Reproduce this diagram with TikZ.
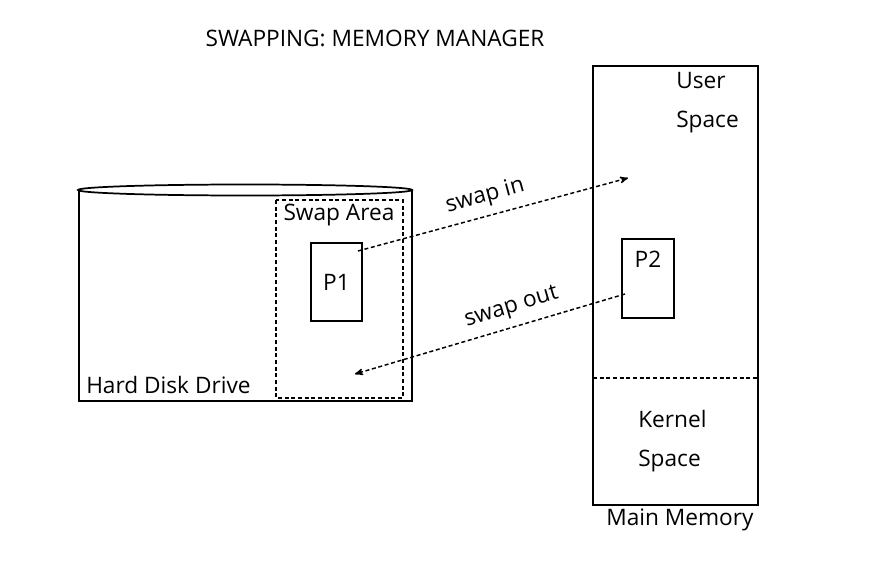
\documentclass[tikz,border=0pt]{standalone}
\usepackage{fontspec}
\setmainfont{Open Sans}
\usepackage{tikz}
\usetikzlibrary{positioning}
\usetikzlibrary{calc}
\usetikzlibrary{arrows,shapes}

\tikzset{
  boxline/.style={draw=black, line width=1.3pt},
  swapline/.style={draw=black, dashed, line width=1.1pt, dash pattern=on 3pt off 2pt},
  swaparrow/.style={swapline, ->, >=stealth'},
  lbl/.style={font=\fontsize{17}{29}\selectfont, inner sep=0pt}
}

\begin{document}
\begin{tikzpicture}[x=0.75pt, y=-0.75pt]

\useasboundingbox (0, 0) rectangle (881, 588);

% title
\node[lbl] (title) at (375, 38) {SWAPPING: MEMORY MANAGER};

% hard disk drive
\draw[boxline] (79, 189) -- (79, 401) -- (412, 401) -- (412, 189);
\draw[boxline, fill=white] (245, 190) ellipse (167 and 5.5);
\node[lbl, anchor=base west] (hdd) at (86, 393) {Hard Disk Drive};

% swap area
\draw[swapline] (276, 200) rectangle (403, 398);
\node[lbl] (swaparea) at (339, 215) {Swap Area};
\draw[boxline, line width=1pt] (311, 243) rectangle node (p1) {} (362, 321);
\node[lbl] at (p1) {P1};

% main memory
\draw[boxline] (593, 66) rectangle (758, 505);
\draw[swapline] (593, 378) -- (758, 378);
\node[lbl, anchor=north west, align=left] (user) at (676, 72) {User\\Space};
\node[lbl, anchor=north west, align=left] (kernel) at (638, 410) {Kernel\\Space};
\node[lbl] (mainmem) at (680, 520) {Main Memory};
\draw[boxline, line width=1pt] (622, 239) rectangle (674, 318);
\node[lbl] (p2) at (648, 259) {P2};

% swap in / swap out
\coordinate (inA) at (358, 251);
\coordinate (inB) at (628, 178);
\coordinate (outA) at (625, 294);
\coordinate (outB) at (355, 374);

\draw[swaparrow] (inA) -- node[lbl, pos=0.49, above=6pt, sloped] {swap in} (inB);
\draw[swaparrow] (outA) -- node[lbl, pos=0.40, above=6pt, sloped] {swap out} (outB);

\end{tikzpicture}
\end{document}
